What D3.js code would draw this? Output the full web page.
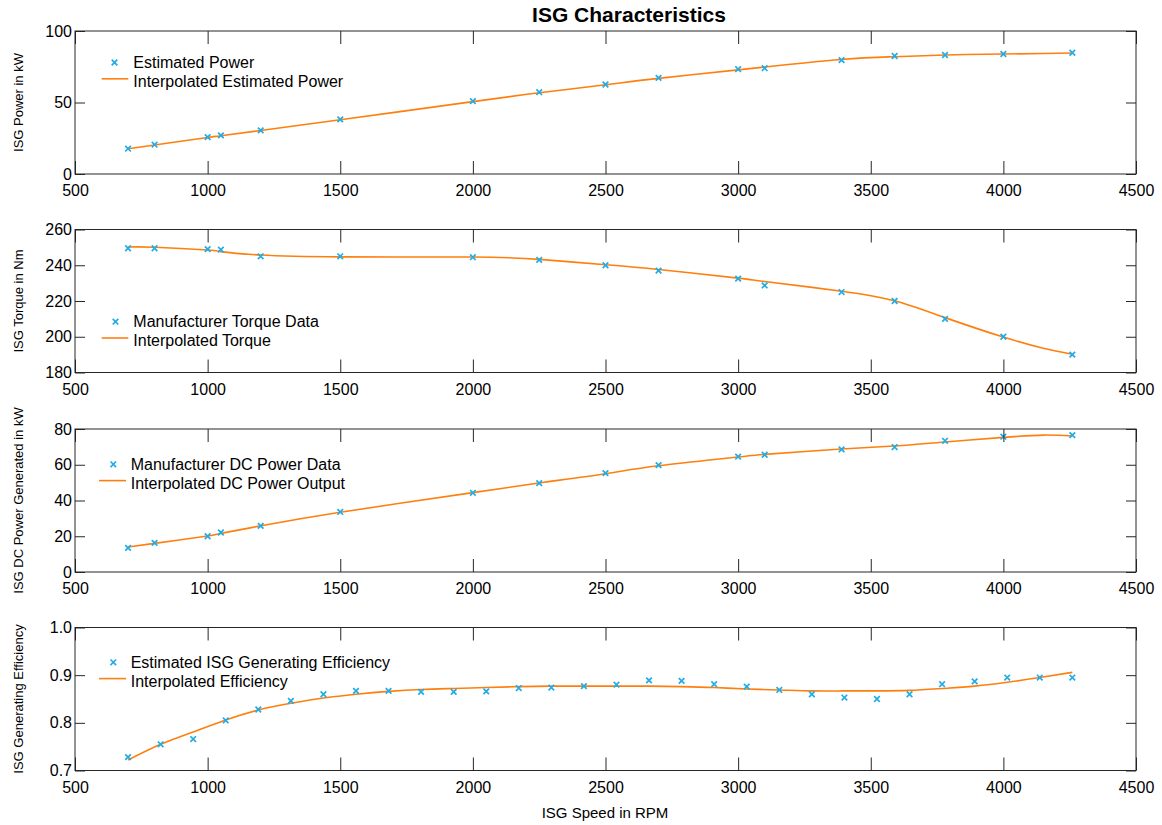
<!DOCTYPE html>
<html>
<head>
<meta charset="utf-8">
<script src="https://cdn.jsdelivr.net/npm/d3@7"></script>
<style>
  html, body { margin: 0; padding: 0; background: #fff; }
  svg { display: block; font-family: "Liberation Sans", Arial, Helvetica, sans-serif; }
</style>
</head>
<body>
<svg id="chart" width="1162" height="825"></svg>
<script>
// ---------- DATA ----------
const speedRpm = [700, 800, 1000, 1050, 1200, 1500, 2000, 2250, 2500, 2700, 3000, 3100, 3390, 3590, 3780, 4000, 4260];
const estPower = [17.7, 20.5, 25.8, 27.0, 30.5, 38.2, 50.9, 57.2, 62.6, 67.2, 73.3, 74.0, 79.6, 82.5, 83.2, 83.9, 84.8];
const torqueData = [249.5, 249.5, 249.0, 248.7, 245.0, 245.0, 244.5, 243.0, 240.0, 237.0, 232.5, 228.7, 225.0, 220.0, 210.0, 200.0, 190.0];
const dcPowerData = [13.5, 16.3, 20.0, 22.1, 25.8, 33.6, 44.3, 49.7, 55.3, 59.8, 64.5, 65.6, 68.6, 69.9, 73.4, 75.7, 76.6];

const curveRpm = [700, 800, 1000, 1050, 1200, 1500, 2000, 2250, 2500, 2700, 3000, 3100, 3390, 3590, 3780, 4000, 4150, 4260];
const powerCurve = [17.7, 20.3, 25.5, 26.8, 30.4, 37.9, 50.6, 56.8, 62.4, 66.9, 72.8, 74.8, 80.1, 82.0, 83.2, 83.9, 84.3, 84.6];
const torqueCurve = [250.2, 250.1, 248.5, 247.6, 245.7, 244.7, 244.6, 243.3, 240.3, 237.6, 232.8, 230.9, 225.5, 220.1, 210.7, 199.8, 193.6, 190.2];
const dcPowerCurve = [14.0, 16.0, 20.1, 21.6, 25.8, 33.4, 44.4, 49.8, 55.0, 59.4, 64.3, 65.8, 68.8, 70.5, 72.7, 75.3, 76.6, 76.1];

const effRpm = [700, 822.8, 945.5, 1068.3, 1191.0, 1313.8, 1436.6, 1559.3, 1682.1, 1804.8, 1927.6, 2050.3, 2173.1, 2295.9, 2418.6, 2541.4, 2664.1, 2786.9, 2909.7, 3032.4, 3155.2, 3277.9, 3400.7, 3523.4, 3646.2, 3769.0, 3891.7, 4014.5, 4137.2, 4260];
const effData = [0.728, 0.755, 0.766, 0.805, 0.828, 0.846, 0.860, 0.867, 0.867, 0.865, 0.865, 0.866, 0.873, 0.874, 0.877, 0.880, 0.889, 0.888, 0.881, 0.876, 0.869, 0.860, 0.853, 0.850, 0.860, 0.881, 0.887, 0.895, 0.895, 0.895];
const effCurve = [0.722, 0.755, 0.781, 0.806, 0.827, 0.841, 0.852, 0.860, 0.866, 0.870, 0.872, 0.874, 0.876, 0.877, 0.877, 0.877, 0.877, 0.876, 0.874, 0.871, 0.869, 0.867, 0.867, 0.867, 0.868, 0.872, 0.877, 0.885, 0.895, 0.906];

const xTicks = [500, 1000, 1500, 2000, 2500, 3000, 3500, 4000, 4500];
const yTicksPower = [0, 50, 100];
const yTicksTorque = [180, 200, 220, 240, 260];
const yTicksDc = [0, 20, 40, 60, 80];
const yTicksEff = [0.7, 0.8, 0.9, 1.0];

const titleText = "ISG Characteristics";
const xLabelText = "ISG Speed in RPM";

// ---------- LAYOUT ----------
const svg = d3.select("#chart");
const X0 = 75, X1 = 1136, PH = 143;
const AX = "#262626", MARK = "#1FACE8", LINE = "#FF7F0E";

const x = d3.scaleLinear().domain([500, 4500]).range([X0, X1]);

const panels = [
  { top: 31, domain: [0, 100], ticks: yTicksPower, fmt: d3.format("d"), label: "ISG Power in kW",
    px: speedRpm, py: estPower, cx: curveRpm, cy: powerCurve,
    leg: ["Estimated Power", "Interpolated Estimated Power"], legY: 31.5, legX: { m: 114.5, l0: 101.7, l1: 128.3, t: 133.3 } },
  { top: 229.5, domain: [180, 260], ticks: yTicksTorque, fmt: d3.format("d"), label: "ISG Torque in Nm",
    px: speedRpm, py: torqueData, cx: curveRpm, cy: torqueCurve,
    leg: ["Manufacturer Torque Data", "Interpolated Torque"], legY: 92.2, legX: { m: 115.5, l0: 101.7, l1: 128.3, t: 133.3 } },
  { top: 429, domain: [0, 80], ticks: yTicksDc, fmt: d3.format("d"), label: "ISG DC Power Generated in kW",
    px: speedRpm, py: dcPowerData, cx: curveRpm, cy: dcPowerCurve,
    leg: ["Manufacturer DC Power Data", "Interpolated DC Power Output"], legY: 35.3, legX: { m: 113.3, l0: 99, l1: 126, t: 130.7 } },
  { top: 627.5, domain: [0.7, 1.0], ticks: yTicksEff, fmt: d3.format(".1f"), label: "ISG Generating Efficiency",
    px: effRpm, py: effData, cx: effRpm, cy: effCurve,
    leg: ["Estimated ISG Generating Efficiency", "Interpolated Efficiency"], legY: 34.8, legX: { m: 113.3, l0: 99, l1: 126, t: 130.7 } }
];

const FONT_TICK = 16, FONT_LEG = 16, FONT_YLAB = 13;

panels.forEach(p => {
  const y = d3.scaleLinear().domain(p.domain).range([p.top + PH, p.top]);
  const g = svg.append("g");

  // curve
  const line = d3.line().x((d, i) => x(p.cx[i])).y(d => y(d)).curve(d3.curveNatural);
  g.append("path").attr("d", line(p.cy)).attr("fill", "none")
    .attr("stroke", LINE).attr("stroke-width", 1.6);

  // markers
  const ms = 2.8;
  g.selectAll("path.mk").data(p.py).enter().append("path")
    .attr("class", "mk")
    .attr("d", (d, i) => {
      const cx = x(p.px[i]), cy = y(d);
      return `M${cx - ms},${cy - ms}L${cx + ms},${cy + ms}M${cx - ms},${cy + ms}L${cx + ms},${cy - ms}`;
    })
    .attr("stroke", MARK).attr("stroke-width", 1.7).attr("fill", "none");

  // axes (box with inward ticks)
  const bottom = g.append("g").attr("transform", `translate(0,${p.top + PH})`)
    .call(d3.axisBottom(x).tickValues(xTicks).tickSize(-13).tickPadding(8).tickFormat(d3.format("d")));
  const top = g.append("g").attr("transform", `translate(0,${p.top})`)
    .call(d3.axisTop(x).tickValues(xTicks).tickSize(-13).tickFormat(""));
  const left = g.append("g").attr("transform", `translate(${X0},0)`)
    .call(d3.axisLeft(y).tickValues(p.ticks).tickSize(-10).tickPadding(3).tickFormat(p.fmt));
  const right = g.append("g").attr("transform", `translate(${X1},0)`)
    .call(d3.axisRight(y).tickValues(p.ticks).tickSize(-10).tickFormat(""));

  [bottom, top, left, right].forEach(a => {
    a.select(".domain").remove();
    a.selectAll(".tick line").attr("stroke", AX).attr("stroke-width", 1);
    a.selectAll(".tick text").attr("fill", "#000").style("font-size", FONT_TICK + "px")
      .style("font-family", '"Liberation Sans", Arial, Helvetica, sans-serif');
  });
  bottom.selectAll(".tick text").attr("y", 22).attr("dy", 0);

  g.append("rect").attr("x", X0).attr("y", p.top).attr("width", X1 - X0).attr("height", PH)
    .attr("fill", "none").attr("stroke", AX).attr("stroke-width", 1);

  // y label
  g.append("text")
    .attr("transform", `translate(23,${p.top + PH / 2}) rotate(-90)`)
    .attr("text-anchor", "middle")
    .style("font-size", FONT_YLAB + "px").attr("fill", "#000")
    .text(p.label);

  // legend
  const ly0 = p.top + p.legY, lyLine = ly0 + 16.3, lyText2 = ly0 + 19;
  const lm = p.legX.m;
  g.append("path")
    .attr("d", `M${lm - ms},${ly0 - ms}L${lm + ms},${ly0 + ms}M${lm - ms},${ly0 + ms}L${lm + ms},${ly0 - ms}`)
    .attr("stroke", MARK).attr("stroke-width", 1.7).attr("fill", "none");
  g.append("line").attr("x1", p.legX.l0).attr("x2", p.legX.l1).attr("y1", lyLine).attr("y2", lyLine)
    .attr("stroke", LINE).attr("stroke-width", 1.6);
  g.append("text").attr("x", p.legX.t).attr("y", ly0 + 5.7).style("font-size", FONT_LEG + "px")
    .attr("fill", "#000").text(p.leg[0]);
  g.append("text").attr("x", p.legX.t).attr("y", lyText2 + 5.7).style("font-size", FONT_LEG + "px")
    .attr("fill", "#000").text(p.leg[1]);
});

// title
svg.append("text").attr("x", 629).attr("y", 22).attr("text-anchor", "middle")
  .style("font-size", "21px").style("font-weight", "bold").attr("fill", "#000").text(titleText);

// x label
svg.append("text").attr("x", 605).attr("y", 818).attr("text-anchor", "middle")
  .style("font-size", "15px").attr("fill", "#000").text(xLabelText);
</script>
</body>
</html>
